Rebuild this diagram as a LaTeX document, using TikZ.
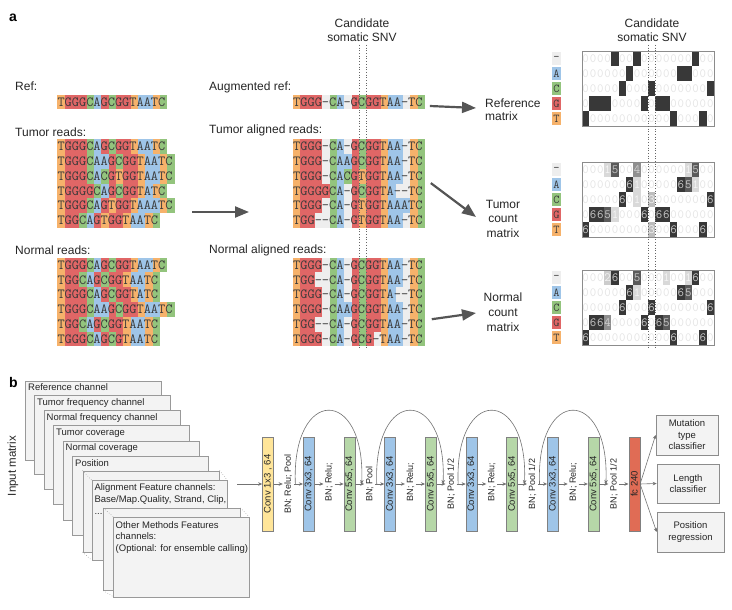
\documentclass[tikz,border=0pt]{standalone}
\usepackage{fontspec}
\setmainfont{Liberation Sans}
\usetikzlibrary{arrows.meta}
\definecolor{seqT}{HTML}{F6B26B}
\definecolor{seqG}{HTML}{E06666}
\definecolor{seqC}{HTML}{93C47D}
\definecolor{seqA}{HTML}{9FC5E8}
\definecolor{seqgap}{HTML}{EEEEEE}
\definecolor{seqink}{HTML}{3A3A3A}
\definecolor{arrgray}{HTML}{555555}
\definecolor{framegray}{HTML}{8C8C8C}
\definecolor{chanfill}{HTML}{F3F3F3}
\definecolor{cy}{HTML}{FFE599}
\definecolor{cb}{HTML}{9FC5E8}
\definecolor{cg}{HTML}{B6D7A8}
\definecolor{cr}{HTML}{E06C55}
\definecolor{cf1}{HTML}{D9D9D9}
\definecolor{cf2}{HTML}{CCCCCC}
\definecolor{cf3}{HTML}{BDBDBD}
\definecolor{cf4}{HTML}{8F8F8F}
\definecolor{cf5}{HTML}{5A5A5A}
\definecolor{cf6}{HTML}{383838}
\definecolor{ct0}{HTML}{E4E4E4}
\definecolor{ct1}{HTML}{F5F5F5}
\definecolor{ct2}{HTML}{F2F2F2}
\definecolor{ct3}{HTML}{F0F0F0}
\definecolor{ct4}{HTML}{D0D0D0}
\definecolor{ct5}{HTML}{C8C8C8}
\definecolor{ct6}{HTML}{C8C8C8}

\newcount\sqi
\def\sqparse#1{\ifx#1\relax\else\sqcell#1\expandafter\sqparse\fi}
\def\sqcell#1{%
  \if#1-\def\sqc{seqgap}\edef\sqtxt{\unexpanded\expandafter{\sqtxt-{}}}%
  \else\def\sqc{seq#1}\edef\sqtxt{\unexpanded\expandafter{\sqtxt#1}}\fi
  \fill[\sqc] ({\sqx+\the\sqi*7.33},{\sqy-7.4}) rectangle ++(7.33,14.8);%
  \global\advance\sqi by 1\relax}
\newcommand\seqline[4]{\def\sqx{#2}\def\sqy{#3}\def\sqtxt{}\global\sqi=0
  \sqparse#4\relax
  \node[seqtext,anchor=west] (#1) at (#2,#3) {\sqtxt};}
\newcommand\mrow[2]{\foreach \v [count=\c from 0] in {#2} {%
  \ifnum\v>0 \fill[cf\v] ({582+\c*7.33},#1) rectangle ++(7.33,15);\fi
  \node[cnum,text=ct\v] at ({582+\c*7.33+3.665},{#1+7.5}) {\v};}}
\newcommand\rrow[2]{\foreach \v [count=\c from 0] in {#2} {%
  \ifnum\v=1 \fill[cf6] ({582+\c*7.33},#1) rectangle ++(7.33,15);%
  \else \node[cnum,text=ct0] at ({582+\c*7.33+3.665},{#1+7.5}) {0};\fi}}
\newcommand\legendcol[1]{\foreach \l/\cc [count=\i from 0] in {-/seqgap,A/seqA,C/seqC,G/seqG,T/seqT} {%
  \fill[\cc] (552,{#1+\i*15+1}) rectangle ++(9,13);
  \node[cnum,text=seqink,font=\ttfamily\fontsize{12}{13}\selectfont] at (556.5,{#1+\i*15+7.5}) {\l};}}

\tikzset{
 lab/.style={font=\fontsize{12}{14.5}\selectfont, inner sep=0pt, text=black!85},
 seqtext/.style={font=\ttfamily\fontsize{13.96}{15}\selectfont, inner sep=0pt, text=seqink},
 cnum/.style={font=\ttfamily\fontsize{12.5}{14}\selectfont, inner sep=0pt},
 mframe/.style={draw=framegray, line width=0.9pt, minimum width=132pt, minimum height=75pt, inner sep=0pt},
 snv/.style={dotted, line width=0.7pt, draw=black!60},
 bigarr/.style={line width=2.2pt, draw=arrgray, -{Triangle[length=14pt,width=11pt]}},
 chan/.style={draw=black!40, fill=chanfill, line width=0.6pt, anchor=north west, inner sep=0pt},
 ctext/.style={font=\fontsize{9.5}{12}\selectfont, inner sep=0pt, text=black!85},
 tick/.style={dotted, draw=black!50, line width=0.5pt},
 cnn/.style={draw=black!50, line width=0.6pt, rotate=90, minimum width=94pt, minimum height=11pt, inner sep=0pt, font=\fontsize{9.5}{11}\selectfont, text=black!85},
 bnlab/.style={rotate=90, font=\fontsize{9}{11}\selectfont, inner sep=1.5pt, text=black!85},
 flow/.style={draw=black!55, line width=0.6pt, -{Stealth[length=4pt,width=3.5pt]}},
 outbox/.style={draw=black!45, fill=chanfill, line width=0.7pt, align=center, font=\fontsize{9.5}{11.5}\selectfont, inner sep=0pt, text=black!85},
}

\begin{document}
\begin{tikzpicture}[x=1pt,y=-1pt]
\useasboundingbox (0,0) rectangle (732,610);
\fill[white] (0,0) rectangle (732,610);

% ---------- panel a ----------
\node[font=\bfseries\fontsize{14}{16}\selectfont, inner sep=0pt, anchor=west] (pa) at (9,18) {a};

\node[lab, anchor=west] (refL) at (15,86) {Ref:};
\node[lab, anchor=west] (tumL) at (15,132) {Tumor reads:};
\node[lab, anchor=west] (norL) at (15,250) {Normal reads:};
\node[lab, anchor=west] (augL) at (209,87) {Augmented ref:};
\node[lab, anchor=west] (tumAL) at (209,130) {Tumor aligned reads:};
\node[lab, anchor=west] (norAL) at (209,250) {Normal aligned reads:};

% left reads
\seqline{lr}{57.3}{102}{TGGGCAGCGGTAATC}
\seqline{lt1}{57.3}{146.5}{TGGGCAGCGGTAATC}
\seqline{lt2}{57.3}{161.3}{TGGGCAAGCGGTAATC}
\seqline{lt3}{57.3}{176.1}{TGGGCACGTGGTAATC}
\seqline{lt4}{57.3}{190.9}{TGGGGCAGCGGTATC}
\seqline{lt5}{57.3}{205.7}{TGGGCAGTGGTAAATC}
\seqline{lt6}{57.3}{220.5}{TGGCAGTGGTAATC}
\seqline{ln1}{57.3}{265}{TGGGCAGCGGTAATC}
\seqline{ln2}{57.3}{279.8}{TGGCAGCGGTAATC}
\seqline{ln3}{57.3}{294.6}{TGGGCAGCGGTATC}
\seqline{ln4}{57.3}{309.4}{TGGGCAAGCGGTAATC}
\seqline{ln5}{57.3}{324.2}{TGGCAGCGGTAATC}
\seqline{ln6}{57.3}{339}{TGGGCAGCGTAATC}

% aligned reads
\seqline{mr}{293}{102}{TGGG-CA-GCGGTAA-TC}
\seqline{mt1}{293}{146.5}{TGGG-CA-GCGGTAA-TC}
\seqline{mt2}{293}{161.3}{TGGG-CAAGCGGTAA-TC}
\seqline{mt3}{293}{176.1}{TGGG-CACGTGGTAA-TC}
\seqline{mt4}{293}{190.9}{TGGGGCA-GCGGTA--TC}
\seqline{mt5}{293}{205.7}{TGGG-CA-GTGGTAAATC}
\seqline{mt6}{293}{220.5}{TGG--CA-GTGGTAA-TC}
\seqline{mn1}{293}{265}{TGGG-CA-GCGGTAA-TC}
\seqline{mn2}{293}{279.8}{TGG--CA-GCGGTAA-TC}
\seqline{mn3}{293}{294.6}{TGGG-CA-GCGGTA--TC}
\seqline{mn4}{293}{309.4}{TGGG-CAAGCGGTAA-TC}
\seqline{mn5}{293}{324.2}{TGG--CA-GCGGTAA-TC}
\seqline{mn6}{293}{339}{TGGG-CA-GCG-TAA-TC}

% candidate SNV labels
\node[lab, align=center] (snvA) at (362,30) {Candidate\\somatic SNV};
\node[lab, align=center] (snvB) at (652,30) {Candidate\\somatic SNV};

% matrix labels
\node[lab, align=left, anchor=west, font=\fontsize{12}{13.5}\selectfont] (refl) at (485,109.5) {Reference\\matrix};
\node[lab, align=center] (tuml) at (503,218.5) {Tumor\\count\\matrix};
\node[lab, align=center, font=\fontsize{12}{15}\selectfont] (norml) at (503,312) {Normal\\count\\matrix};

% matrices
\legendcol{51}
\rrow{51}{0,0,0,0,1,0,0,1,0,0,0,0,0,0,0,1,0,0}
\rrow{66}{0,0,0,0,0,0,1,0,0,0,0,0,0,1,1,0,0,0}
\rrow{81}{0,0,0,0,0,1,0,0,0,1,0,0,0,0,0,0,0,1}
\rrow{96}{0,1,1,1,0,0,0,0,1,0,1,1,0,0,0,0,0,0}
\rrow{111}{1,0,0,0,0,0,0,0,0,0,0,0,1,0,0,0,1,0}
\node[mframe, anchor=north west] (refm) at (582,51) {};

\legendcol{162}
\mrow{162}{0,0,0,1,5,0,0,4,0,0,0,0,0,0,1,5,0,0}
\mrow{177}{0,0,0,0,0,0,6,1,0,0,0,0,0,6,5,1,0,0}
\mrow{192}{0,0,0,0,0,6,0,1,0,3,0,0,0,0,0,0,0,6}
\mrow{207}{0,6,6,5,1,0,0,0,6,0,6,6,0,0,0,0,0,0}
\mrow{222}{6,0,0,0,0,0,0,0,0,3,0,0,6,0,0,0,6,0}
\node[mframe, anchor=north west] (tumm) at (582,162) {};

\legendcol{270}
\mrow{270}{0,0,0,2,6,0,0,5,0,0,0,1,0,0,1,6,0,0}
\mrow{285}{0,0,0,0,0,0,6,1,0,0,0,0,0,6,5,0,0,0}
\mrow{300}{0,0,0,0,0,6,0,0,0,6,0,0,0,0,0,0,0,6}
\mrow{315}{0,6,6,4,0,0,0,0,6,0,6,5,0,0,0,0,0,0}
\mrow{330}{6,0,0,0,0,0,0,0,0,0,0,0,6,0,0,0,6,0}
\node[mframe, anchor=north west] (norm) at (582,270) {};

% dotted SNV lines
\draw[snv] (359,45) -- (359,348);
\draw[snv] (366.3,45) -- (366.3,348);
\draw[snv] (648,45) -- (648,348);
\draw[snv] (655.3,45) -- (655.3,348);

% big arrows
\coordinate (ma) at (192,212);
\coordinate (mb) at (249,212);
\draw[bigarr] (ma) -- (mb);
\draw[bigarr] ([shift={(7,4)}]mr.east) -- ([shift={(-9,-1.5)}]refl.west);
\draw[bigarr] ([shift={(8,7)}]mt3.east) -- ([shift={(-27,-1.5)}]tuml.center);
\draw[bigarr] ([shift={(9,-5)}]mn5.east) -- ([shift={(-27,1)}]norml.center);

% ---------- panel b ----------
\node[font=\bfseries\fontsize{14}{16}\selectfont, inner sep=0pt, anchor=west] (pb) at (9,382) {b};
\node[lab, rotate=90, font=\fontsize{11.5}{13}\selectfont] (inm) at (13,466) {Input matrix};

\node[chan, minimum width=136pt, minimum height=79pt] (ch1) at (25,381) {};
\node[ctext, anchor=west] (ch1t) at (28,387) {Reference channel};
\node[chan, minimum width=136pt, minimum height=79pt] (ch2) at (34,395) {};
\node[ctext, anchor=west] (ch2t) at (37,403) {Tumor frequency channel};
\node[chan, minimum width=136pt, minimum height=79pt] (ch3) at (43.5,410) {};
\node[ctext, anchor=west] (ch3t) at (46.5,418) {Normal frequency channel};
\node[chan, minimum width=136pt, minimum height=79pt] (ch4) at (53,425) {};
\node[ctext, anchor=west] (ch4t) at (56,433) {Tumor coverage};
\node[chan, minimum width=136pt, minimum height=79pt] (ch5) at (62.5,441) {};
\node[ctext, anchor=west] (ch5t) at (65.5,448.3) {Normal coverage};
\node[chan, minimum width=136pt, minimum height=79pt] (ch6) at (72,456) {};
\node[ctext, anchor=west] (ch6t) at (75,463.3) {Position};

\node[chan, minimum width=136.5pt, minimum height=81pt] (ch7) at (82.5,470.5) {};
\draw[tick] (ch7.north west) -- (91.5,480);
\draw[tick] (ch7.north east) -- (227,480);
\draw[tick] (ch7.south west) -- (91.5,560);
\node[chan, minimum width=135.5pt, minimum height=80pt] (ch8) at (91.5,480) {};
\node[ctext, anchor=north west, align=left, font=\fontsize{9.5}{12.2}\selectfont] (ch8t) at (94.3,483.5) {Alignment Feature channels:\\Base/Map.Quality, Strand, Clip,\\...};

\node[chan, minimum width=136.5pt, minimum height=82pt] (ch9) at (103.3,508) {};
\draw[tick] (ch9.north west) -- (113.3,516.7);
\draw[tick] (ch9.north east) -- (249.3,516.7);
\draw[tick] (ch9.south west) -- (113.3,596.7);
\node[chan, minimum width=136pt, minimum height=80pt] (ch10) at (113.3,516.7) {};
\node[ctext, anchor=north west, align=left, font=\fontsize{9.5}{11.7}\selectfont] (ch10t) at (115.5,521) {Other Methods Features\\channels:\\(Optional: for ensemble calling)};

% CNN
\node[cnn, fill=cy] (c0) at (268,484) {Conv 1x3 , 64};
\node[cnn, fill=cb] (c1) at (308.7,484) {Conv 3x3, 64};
\node[cnn, fill=cg] (c2) at (349.4,484) {Conv 5x5, 64};
\node[cnn, fill=cb] (c3) at (390.1,484) {Conv 3x3, 64};
\node[cnn, fill=cg] (c4) at (430.8,484) {Conv 5x5, 64};
\node[cnn, fill=cb] (c5) at (471.5,484) {Conv 3x3, 64};
\node[cnn, fill=cg] (c6) at (512.2,484) {Conv 5x5, 64};
\node[cnn, fill=cb] (c7) at (552.9,484) {Conv 3x3, 64};
\node[cnn, fill=cg] (c8) at (593.6,484) {Conv 5x5, 64};
\node[cnn, fill=cr] (c9) at (634.3,484) {fc 240};

\node[bnlab] (b1) at (288.3,484) {BN; Relu; Pool};
\node[bnlab] (b2) at (329,482) {BN; Relu;};
\node[bnlab] (b3) at (369.7,484) {BN; Pool};
\node[bnlab] (b4) at (410.4,482) {BN; Relu;};
\node[bnlab] (b5) at (451.1,484) {BN; Pool 1/2};
\node[bnlab] (b6) at (491.8,482) {BN; Relu;};
\node[bnlab] (b7) at (532.5,484) {BN; Pool 1/2};
\node[bnlab] (b8) at (573.2,482) {BN; Relu;};
\node[bnlab] (b9) at (613.9,484) {BN; Pool 1/2};

\coordinate (inA) at (237,484);
\draw[flow] (inA) -- (c0.north);
\foreach \k [evaluate=\k as \n using int(\k-1)] in {1,...,9} {
  \draw[flow] (c\n.south) -- (c\n.south -| b\k.north);
  \draw[flow] (b\k.south |- c0.south) -- (c\k.north);
}

% skip connections
\draw[flow] ([xshift=1.5pt]b1.south |- c0.south) .. controls +(-4,-98) and +(4,-98) .. ([xshift=-2.5pt]b3.north |- c0.south);
\draw[flow] ([xshift=1.5pt]b3.south |- c0.south) .. controls +(-4,-98) and +(4,-98) .. ([xshift=-2.5pt]b5.north |- c0.south);
\draw[flow] ([xshift=1.5pt]b5.south |- c0.south) .. controls +(-4,-98) and +(4,-98) .. ([xshift=-2.5pt]b7.north |- c0.south);
\draw[flow] ([xshift=1.5pt]b7.south |- c0.south) .. controls +(-4,-98) and +(4,-98) .. ([xshift=-2.5pt]b9.north |- c0.south);

% outputs
\node[outbox, minimum width=62pt, minimum height=40pt] (o1) at (687,435) {Mutation\\type\\classifier};
\node[outbox, minimum width=62pt, minimum height=39pt] (o2) at (688,483.5) {Length\\classifier};
\node[outbox, minimum width=67pt, minimum height=40pt] (o3) at (690.5,532) {Position\\regression};
\draw[flow] (c9.south) -- (o1.west);
\draw[flow] (c9.south) -- (o2.west);
\draw[flow] (c9.south) -- (o3.west);
\end{tikzpicture}
\end{document}
